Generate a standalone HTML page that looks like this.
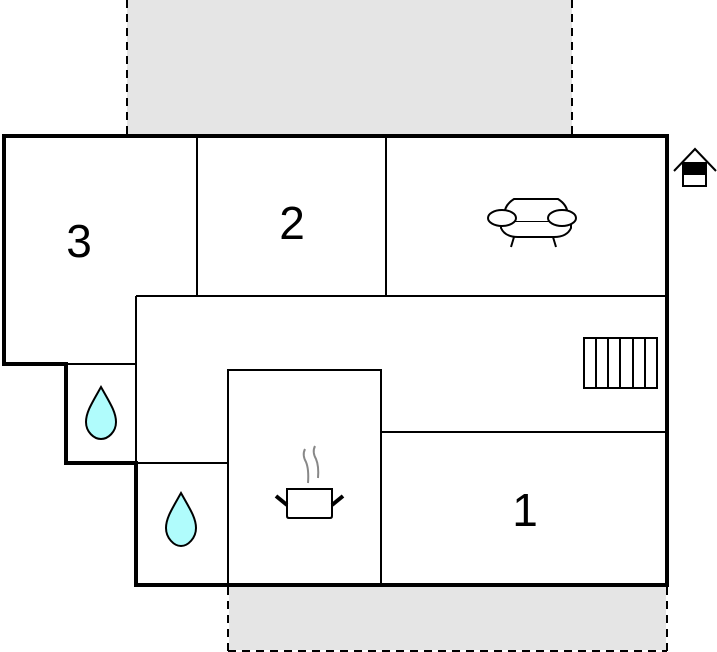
<!DOCTYPE html>
<html><head><style>body{margin:0;background:#fff}svg{display:block}</style></head><body>
<svg width="717" height="652" viewBox="0 0 717 652" xmlns="http://www.w3.org/2000/svg">
<rect x="127" y="0" width="445" height="136" fill="#e5e5e5"/>
<polyline points="127,0 127,134 M572,0" fill="none"/>
<g stroke="#000" stroke-width="2" stroke-dasharray="8,6" fill="none">
<line x1="127" y1="0" x2="127" y2="134"/><line x1="572" y1="0" x2="572" y2="134"/>
<line x1="228" y1="587" x2="228" y2="652"/><line x1="667" y1="587" x2="667" y2="652"/>
<line x1="228" y1="651" x2="667" y2="651"/>
</g>
<rect x="229" y="587" width="437" height="63" fill="#e5e5e5"/>
<g stroke="#000" stroke-width="2" fill="none">
<line x1="197" y1="136" x2="197" y2="296"/>
<line x1="386" y1="136" x2="386" y2="296"/>
<line x1="136" y1="296" x2="667" y2="296"/>
<line x1="136" y1="296" x2="136" y2="463"/>
<line x1="66" y1="364" x2="136" y2="364"/>
<line x1="136" y1="463" x2="228" y2="463"/>
<polyline points="228,585 228,370 381,370 381,585"/>
<line x1="381" y1="432" x2="667" y2="432"/>
</g>
<polygon points="4,136 667,136 667,585 136,585 136,463 66,463 66,364 4,364" fill="none" stroke="#000" stroke-width="4"/>
<g font-family="Liberation Sans, sans-serif" font-size="46" text-anchor="middle" fill="#000">
<text x="79" y="257">3</text><text x="292" y="239">2</text><text x="525" y="526">1</text>
</g>
<g fill="#b0fcfc" stroke="#000" stroke-width="2">
<path d="M101,387 C92,403 86,412 86,422 C86,432 94,439 101,439 C108,439 116,432 116,422 C116,412 110,403 101,387 Z"/>
<path d="M181,493 C172,509 166,518 166,528 C166,538 174,546 181,546 C188,546 196,538 196,528 C196,518 190,509 181,493 Z"/>
</g>
<g stroke="#000" stroke-width="2" fill="#fff">
<path d="M507,222 Q500,208 514,199 L558,199 Q572,208 565,222 Z"/>
<path d="M501,222 L501,228 Q505,237 518,237 L554,237 Q567,237 571,228 L571,222"/>
<ellipse cx="502" cy="218" rx="14" ry="8"/><ellipse cx="562" cy="218" rx="14" ry="8"/>
<line x1="514" y1="237" x2="511" y2="247"/><line x1="553" y1="237" x2="556" y2="247"/>
</g>
<g stroke="#000" stroke-width="2" fill="#fff">
<rect x="584" y="338" width="73" height="50"/>
<line x1="596" y1="338" x2="596" y2="388"/><line x1="608" y1="338" x2="608" y2="388"/><line x1="620" y1="338" x2="620" y2="388"/><line x1="633" y1="338" x2="633" y2="388"/><line x1="645" y1="338" x2="645" y2="388"/>
</g>
<g stroke="#000" stroke-width="2" fill="#fff">
<path d="M287,489 L332,489 L332,516 Q332,518 330,518 L289,518 Q287,518 287,516 Z"/>
</g>
<g stroke="#000" stroke-width="4"><line x1="276" y1="496" x2="287" y2="505"/><line x1="343" y1="496" x2="332" y2="505"/></g>
<g stroke="#888" stroke-width="2" fill="none">
<path d="M305,449 Q302,455 306,462 Q309,469 308,483"/>
<path d="M315,446 Q312,452 316,459 Q319,466 318,478"/>
</g>
<g stroke="#000" stroke-width="2">
<polyline points="674,171 695,149 716,171" fill="none"/>
<rect x="683" y="163" width="23" height="11" fill="#000"/>
<rect x="683" y="174" width="23" height="12" fill="#fff"/>
</g>
</svg>
</body></html>
